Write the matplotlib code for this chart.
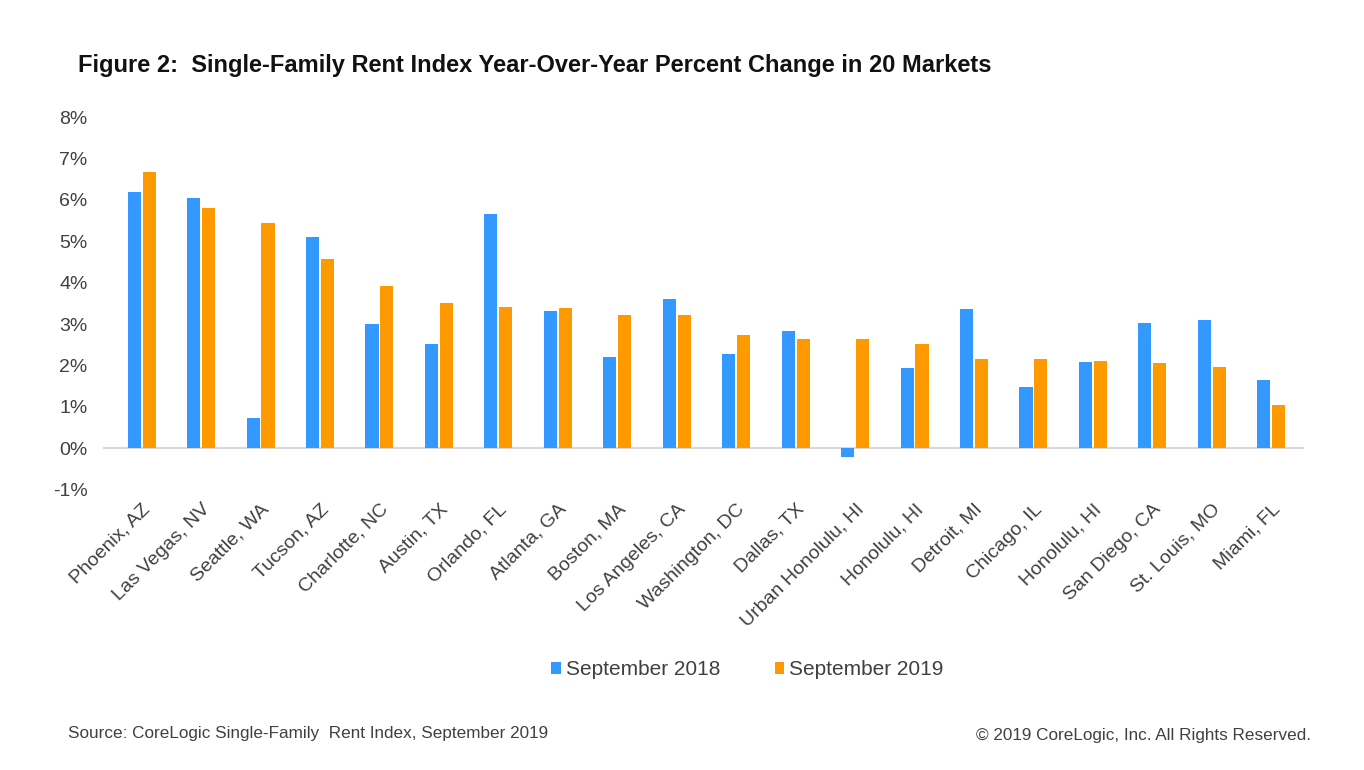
import numpy as np
import matplotlib
matplotlib.use('Agg')
import matplotlib.pyplot as plt
from matplotlib import font_manager
from matplotlib.ticker import FuncFormatter

# data
markets = ['Phoenix, AZ', 'Las Vegas, NV', 'Seattle, WA', 'Tucson, AZ', 'Charlotte, NC',
           'Austin, TX', 'Orlando, FL', 'Atlanta, GA', 'Boston, MA', 'Los Angeles, CA',
           'Washington, DC', 'Dallas, TX', 'Urban Honolulu, HI', 'Honolulu, HI', 'Detroit, MI',
           'Chicago, IL', 'Honolulu, HI', 'San Diego, CA', 'St. Louis, MO', 'Miami, FL']
sep2018 = [6.19, 6.04, 0.72, 5.11, 2.99, 2.51, 5.65, 3.31, 2.21, 3.61,
           2.27, 2.83, -0.21, 1.93, 3.37, 1.49, 2.08, 3.03, 3.10, 1.66]
sep2019 = [6.67, 5.81, 5.45, 4.56, 3.93, 3.50, 3.42, 3.38, 3.23, 3.22,
           2.74, 2.64, 2.64, 2.51, 2.16, 2.16, 2.12, 2.05, 1.97, 1.04]

blue = '#3399ff'
orange = '#ff9900'
textColor = '#404040'

plt.rcParams['font.family'] = ['Liberation Sans', 'DejaVu Sans']
installed = {f.name for f in font_manager.fontManager.ttflist}
narrow = 'Liberation Sans Narrow' if 'Liberation Sans Narrow' in installed else 'Liberation Sans'

fig = plt.figure(figsize=(13.64, 7.70), dpi=100, facecolor='w')
ax = fig.add_axes([0.0755, 0.364, 0.8805, 0.484])

x = np.arange(len(markets))
w = 0.22
ax.bar(x - 0.125, sep2018, w, color=blue, label='September 2018', zorder=2)
ax.bar(x + 0.125, sep2019, w, color=orange, label='September 2019', zorder=2)

ax.axhline(0, color='#d9d9d9', linewidth=1.5, zorder=1)
ax.set_xlim(-0.65, len(markets) - 0.45)
ax.set_ylim(-1, 8)
ax.set_yticks(range(-1, 9))
ax.yaxis.set_major_formatter(FuncFormatter(lambda v, p: '%d%%' % v))

for s in ax.spines.values():
    s.set_visible(False)
ax.tick_params(axis='both', length=0, colors=textColor, labelsize=14)
ax.tick_params(axis='y', pad=11)

ax.set_xticks(x)
ax.set_xticklabels(markets, rotation=45, ha='right', rotation_mode='anchor')
ax.tick_params(axis='x', pad=8)

fig.text(0.057, 0.915, 'Figure 2:  Single-Family Rent Index Year-Over-Year Percent Change in 20 Markets',
         fontsize=17 if narrow == 'Liberation Sans' else 19, family=narrow,
         fontweight='bold', color='#111111', va='center')

leg = fig.legend(loc='center', bbox_to_anchor=(0.548, 0.13), ncol=2, frameon=False,
                 fontsize=15, handlelength=0.45, handleheight=0.45, handletextpad=0.25,
                 columnspacing=2.6)
for t in leg.get_texts():
    t.set_color(textColor)

fsz = 12.3 if narrow == 'Liberation Sans' else 14
fig.text(0.05, 0.048, 'Source: CoreLogic Single-Family  Rent Index, September 2019',
         fontsize=fsz, family=narrow, color=textColor, va='center')
fig.text(0.961, 0.045, '\u00a9 2019 CoreLogic, Inc. All Rights Reserved.',
         fontsize=fsz, family=narrow, color=textColor, va='center', ha='right')

fig.savefig('out.png', dpi=100, facecolor='w')
